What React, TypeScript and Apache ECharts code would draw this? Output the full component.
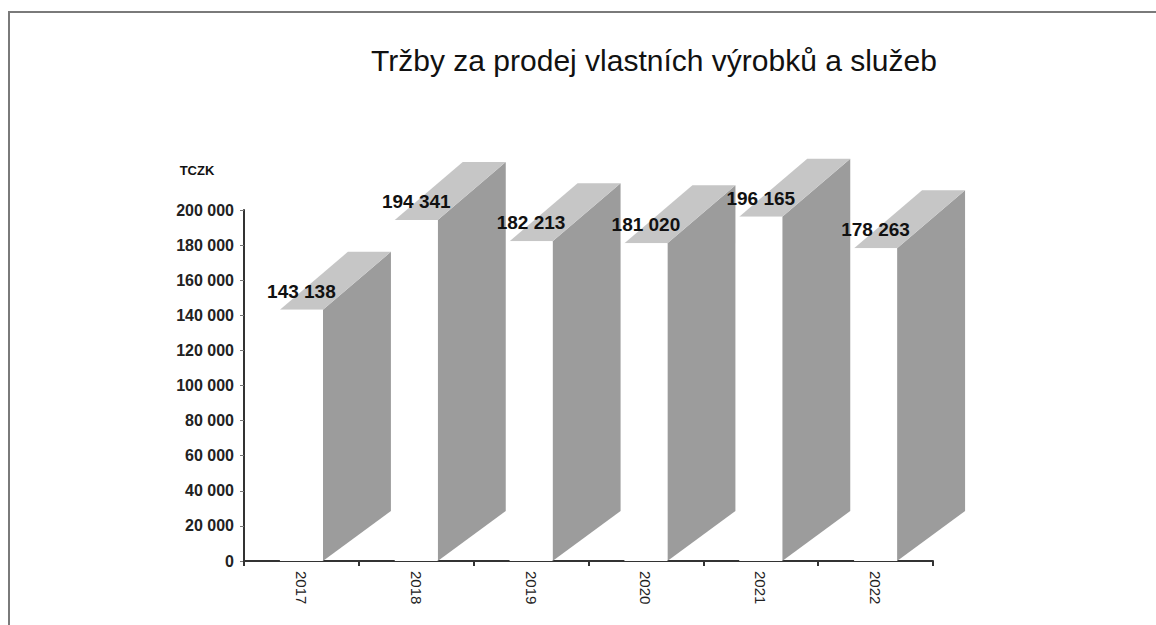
import React, { useEffect, useRef } from "react";
import * as echarts from "echarts";

const categories = ["2017", "2018", "2019", "2020", "2021", "2022"];
const revenues = [143138, 194341, 182213, 181020, 196165, 178263];
const yTicks = { min: 0, max: 200000, interval: 20000 };
const titleText = "Tržby za prodej vlastních výrobků a služeb";
const unitText = "TCZK";

const BAR_W = 43;
const DX = 68;
const DY_TOP = -58;
const DY_BOT = -50;
const SIDE = "#9c9c9c";
const TOP = "#c6c6c6";

const fmt = (v: number) => String(v).replace(/\B(?=(\d{3})+(?!\d))/g, " ");

export default function App() {
  const ref = useRef<HTMLDivElement>(null);
  useEffect(() => {
    document.body.style.margin = "0";
    const chart = echarts.init(ref.current!, null, { renderer: "svg" });
    chart.setOption({
      animation: false,
      backgroundColor: "#ffffff",
      grid: { left: 244, right: 223, top: 210, bottom: 64 },
      graphic: [
        {
          type: "polyline",
          shape: { points: [[9, 625], [9, 12], [1156, 12]] },
          style: { stroke: "#7a7a7a", lineWidth: 2, fill: "none" },
          silent: true,
        },
        {
          type: "text",
          x: 654,
          y: 60,
          style: {
            text: titleText,
            font: "30px 'Liberation Sans', Arial, sans-serif",
            fill: "#111",
            align: "center",
            verticalAlign: "middle",
          },
        },
        {
          type: "text",
          x: 197,
          y: 170,
          style: {
            text: unitText,
            font: "bold 13px 'Liberation Sans', Arial, sans-serif",
            fill: "#111",
            align: "center",
            verticalAlign: "middle",
          },
        },
      ],
      xAxis: {
        type: "category",
        data: categories,
        boundaryGap: true,
        axisLine: { show: true, lineStyle: { color: "#333", width: 2 } },
        axisTick: { show: true, interval: 0, length: 5, lineStyle: { color: "#333", width: 2 } },
        axisLabel: {
          rotate: -90,
          margin: 10,
          fontSize: 15,
          color: "#222",
          fontFamily: "'Liberation Sans', Arial, sans-serif",
        },
        splitLine: { show: false },
      },
      yAxis: {
        type: "value",
        min: yTicks.min,
        max: yTicks.max,
        interval: yTicks.interval,
        axisLine: { show: true, lineStyle: { color: "#333", width: 2 } },
        axisTick: { show: true, length: 4, lineStyle: { color: "#777" } },
        splitLine: { show: false },
        axisLabel: {
          margin: 10,
          fontSize: 16,
          fontWeight: "bold",
          color: "#222",
          fontFamily: "'Liberation Sans', Arial, sans-serif",
          formatter: (v: number) => fmt(v),
        },
      },
      series: [
        {
          type: "custom",
          z: 2,
          clip: false,
          data: revenues.map((v, i) => [i, v]),
          encode: { x: 0, y: 1 },
          renderItem: (params: any, api: any) => {
            const idx = api.value(0);
            const v = api.value(1);
            const top = api.coord([idx, v]);
            const base = api.coord([idx, 0]);
            const half = BAR_W / 2;
            const xl = top[0] - half;
            const xr = top[0] + half;
            return {
              type: "group",
              children: [
                {
                  type: "polygon",
                  shape: {
                    points: [
                      [xr, top[1]],
                      [xr + DX, top[1] + DY_TOP],
                      [xr + DX, base[1] + DY_BOT],
                      [xr, base[1]],
                    ],
                  },
                  style: { fill: SIDE },
                },
                {
                  type: "polygon",
                  shape: {
                    points: [
                      [xl, top[1]],
                      [xr, top[1]],
                      [xr + DX, top[1] + DY_TOP],
                      [xl + DX, top[1] + DY_TOP],
                    ],
                  },
                  style: { fill: TOP },
                },
              ],
            };
          },
        },
        {
          type: "bar",
          z: 3,
          barWidth: BAR_W,
          data: revenues,
          itemStyle: { color: "#ffffff" },
          label: {
            show: true,
            position: "top",
            distance: 9,
            fontSize: 19,
            fontWeight: "bold",
            color: "#111",
            fontFamily: "'Liberation Sans', Arial, sans-serif",
            formatter: (p: any) => fmt(p.value),
          },
        },
      ],
    });
    return () => chart.dispose();
  }, []);
  return <div ref={ref} style={{ width: 1156, height: 625 }} />;
}
